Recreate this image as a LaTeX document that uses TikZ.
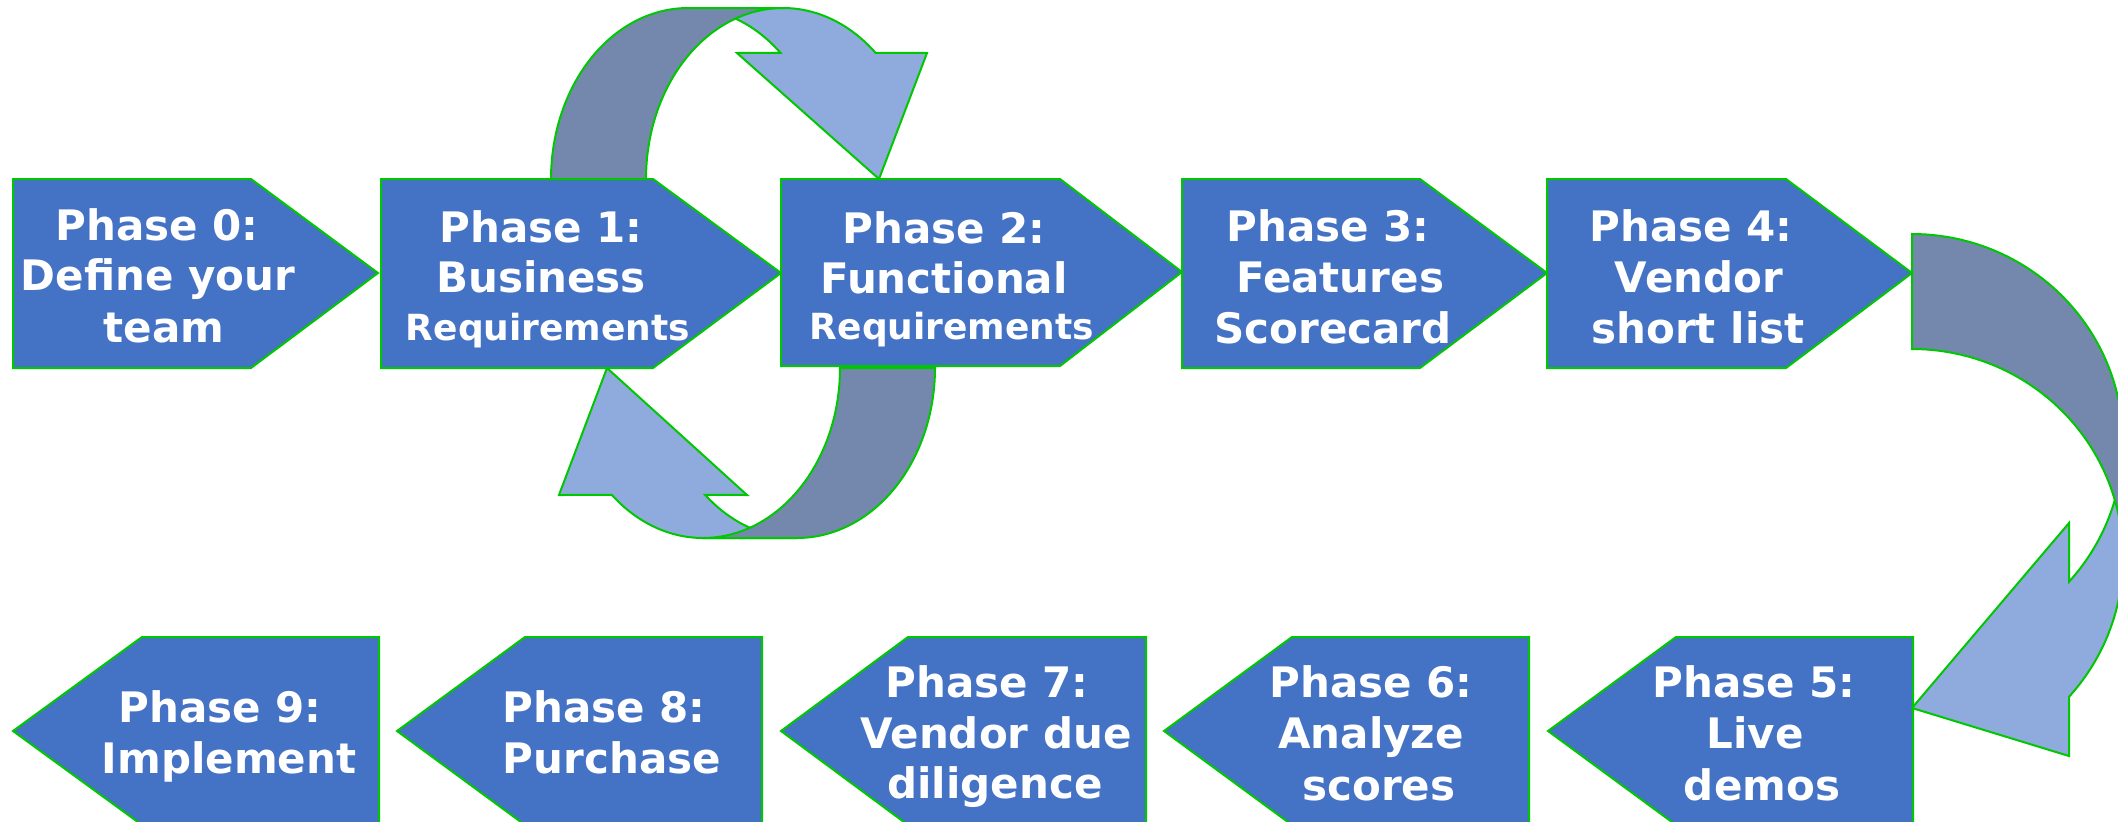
\documentclass[tikz,border=0pt]{standalone}
\usepackage{fontspec}
\setmainfont{DejaVu Sans}
\definecolor{boxblue}{HTML}{4472C4}
\definecolor{edgegreen}{HTML}{00C800}
\definecolor{lightband}{HTML}{8FAADC}
\definecolor{darkband}{RGB}{116,136,174}
\tikzset{
  phasebox/.style={fill=boxblue, draw=edgegreen, line width=2pt, line join=miter},
  darkpart/.style={fill=darkband, draw=edgegreen, line width=2pt},
  lightpart/.style={fill=lightband, draw=edgegreen, line width=2pt},
  lbl/.style={anchor=base, text=white, inner sep=0pt, font=\fontsize{42}{50}\selectfont\bfseries},
  lblsmall/.style={lbl, font=\fontsize{36}{44}\selectfont\bfseries},
  arcplot/.style={samples=48, variable=\t},
}
\begin{document}
\begin{tikzpicture}[x=1pt,y=-1pt]
\useasboundingbox (0,0) rectangle (2118,822);
\clip (0,0) rectangle (2118,822);

% ---- top row (pointing right) ----
\draw[phasebox] (13,179) -- (251,179) -- (378,273) -- (251,368) -- (13,368) -- cycle;
\draw[phasebox] (381,179) -- (653,179) -- (781,273) -- (653,368) -- (381,368) -- cycle;
\draw[phasebox] (781,179) -- (1060,179) -- (1182,272) -- (1060,366) -- (781,366) -- cycle;
\draw[phasebox] (1182,179) -- (1420,179) -- (1547,273) -- (1420,368) -- (1182,368) -- cycle;
\draw[phasebox] (1547,179) -- (1786,179) -- (1912,273) -- (1786,368) -- (1547,368) -- cycle;

% ---- bottom row (pointing left) ----
\draw[phasebox] (13,731) -- (142,637) -- (379,637) -- (379,825) -- (142,825) -- cycle;
\draw[phasebox] (397,731) -- (525,637) -- (762,637) -- (762,825) -- (525,825) -- cycle;
\draw[phasebox] (781,731) -- (908,637) -- (1146,637) -- (1146,825) -- (908,825) -- cycle;
\draw[phasebox] (1164,731) -- (1292,637) -- (1529,637) -- (1529,825) -- (1292,825) -- cycle;
\draw[phasebox] (1548,731) -- (1676,637) -- (1913,637) -- (1913,825) -- (1676,825) -- cycle;

% ---- curved arrow above phases 1-2 ----
\draw[lightpart] plot[arcplot, domain=270:312.5] ({783+137*cos(\t)},{179+171*sin(\t)})
  -- (927,53) -- (879,179) -- (737,53)
  -- plot[arcplot, domain=312.5:270] ({688+137*cos(\t)},{179+171*sin(\t)}) -- cycle;
\draw[darkpart] plot[arcplot, domain=180:270] ({688+137*cos(\t)},{179+171*sin(\t)})
  -- plot[arcplot, domain=270:180] ({783+137*cos(\t)},{179+171*sin(\t)}) -- cycle;

% ---- curved arrow below phases 1-2 ----
\draw[lightpart] plot[arcplot, domain=90:131.7] ({703+137*cos(\t)},{368+170*sin(\t)})
  -- (559,495) -- (607,368) -- (747,495)
  -- plot[arcplot, domain=131.7:90] ({797+138*cos(\t)},{368+170*sin(\t)}) -- cycle;
\draw[darkpart] plot[arcplot, domain=0:90] ({797+138*cos(\t)},{368+170*sin(\t)})
  -- plot[arcplot, domain=90:0] ({703+137*cos(\t)},{368+170*sin(\t)}) -- cycle;

% ---- curved arrow from phase 4 to phase 5 ----
\draw[lightpart] plot[arcplot, domain=0:41.9] ({1912+211*cos(\t)},{557.5+208.5*sin(\t)})
  -- (2069,756) -- (1912,708) -- (2069,523)
  -- plot[arcplot, domain=41.9:0] ({1912+211*cos(\t)},{442.5+208.5*sin(\t)}) -- cycle;
\draw[darkpart] plot[arcplot, domain=-90:0] ({1912+211*cos(\t)},{442.5+208.5*sin(\t)})
  -- plot[arcplot, domain=0:-90] ({1912+211*cos(\t)},{557.5+208.5*sin(\t)}) -- cycle;

% ---- labels ----
\node[lbl] (p0a) at (157,240) {Phase 0:};
\node[lbl] (p0b) at (158,290) {Define your};
\node[lbl] (p0c) at (164,342) {team};

\node[lbl] (p1a) at (541,242) {Phase 1:};
\node[lbl] (p1b) at (541,292) {Business};
\node[lblsmall] (p1c) at (548,340) {Requirements};

\node[lbl] (p2a) at (944,243) {Phase 2:};
\node[lbl] (p2b) at (944,293) {Functional};
\node[lblsmall] (p2c) at (952,339) {Requirements};

\node[lbl] (p3a) at (1328,241) {Phase 3:};
\node[lbl] (p3b) at (1340,292) {Features};
\node[lbl] (p3c) at (1333,343) {Scorecard};

\node[lbl] (p4a) at (1691,241) {Phase 4:};
\node[lbl] (p4b) at (1699,292) {Vendor};
\node[lbl] (p4c) at (1698,343) {short list};

\node[lbl] (p5a) at (1754,697) {Phase 5:};
\node[lbl] (p5b) at (1755,748) {Live};
\node[lbl] (p5c) at (1762,800) {demos};

\node[lbl] (p6a) at (1371,697) {Phase 6:};
\node[lbl] (p6b) at (1371,748) {Analyze};
\node[lbl] (p6c) at (1379,800) {scores};

\node[lbl] (p7a) at (987,697) {Phase 7:};
\node[lbl] (p7b) at (996,748) {Vendor due};
\node[lbl] (p7c) at (995,798) {diligence};

\node[lbl] (p8a) at (604,722) {Phase 8:};
\node[lbl] (p8b) at (612,773) {Purchase};

\node[lbl] (p9a) at (220,722) {Phase 9:};
\node[lbl] (p9b) at (229,773) {Implement};
\end{tikzpicture}
\end{document}
